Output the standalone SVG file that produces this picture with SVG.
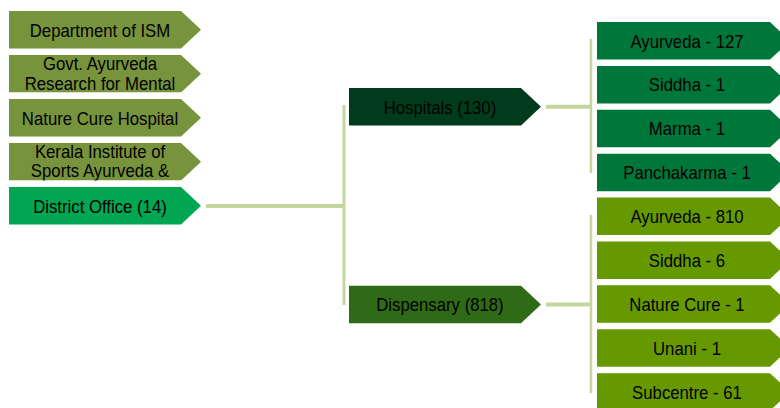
<svg xmlns="http://www.w3.org/2000/svg" width="780" height="408" viewBox="0 0 780 408">
<style>
text{font-family:"Liberation Sans",Arial,sans-serif;font-size:18px;fill:#000;text-anchor:middle;transform:scaleX(0.93);transform-box:fill-box;transform-origin:center}
.olive{fill:#77933c}
.dist{fill:#00a651}
.hosp{fill:#003c1b}
.disp{fill:#2f6a17}
.rtop{fill:#00773a}
.rbot{fill:#669900}
.conn{stroke:#c3d69b;fill:none}
</style>
<defs>
<clipPath id="c2"><rect x="9" y="55" width="192" height="37.5"/></clipPath>
<clipPath id="c4"><rect x="9" y="143" width="192" height="37.5"/></clipPath>
</defs>
<rect width="780" height="408" fill="#fff"/>
<g id="connectors">
<path class="conn" stroke-width="4" d="M206,206 H345"/>
<path class="conn" stroke-width="3" d="M344,105 V305"/>
<path class="conn" stroke-width="4" d="M546,106.7 H591"/>
<path class="conn" stroke-width="2.5" d="M591,39 V173"/>
<path class="conn" stroke-width="4" d="M546,304.5 H591"/>
<path class="conn" stroke-width="2.5" d="M591,215 V393"/>
</g>
<g id="n-dept"><path class="olive" d="M9,11 H181 L201,29.75 L181,48.5 H9 Z"/><text x="100" y="36.6">Department of ISM</text></g>
<g id="n-govt" clip-path="url(#c2)"><path class="olive" d="M9,55 H181 L201,73.75 L181,92.5 H9 Z"/><text x="100" y="70">Govt. Ayurveda</text><text x="100" y="90">Research for Mental</text></g>
<g id="n-nature"><path class="olive" d="M9,99 H181 L201,117.75 L181,136.5 H9 Z"/><text x="100" y="124.6">Nature Cure Hospital</text></g>
<g id="n-kerala" clip-path="url(#c4)"><path class="olive" d="M9,143 H181 L201,161.75 L181,180.5 H9 Z"/><text x="100" y="158.3">Kerala Institute of</text><text x="100" y="177.5">Sports Ayurveda &amp;</text></g>
<g id="n-district"><path class="dist" d="M9,187 H181 L201,205.75 L181,224.5 H9 Z"/><text x="100" y="212.6">District Office (14)</text></g>
<g id="n-hospitals"><path class="hosp" d="M349,88 H521 L541,106.75 L521,125.5 H349 Z"/><text x="440" y="113.6">Hospitals (130)</text></g>
<g id="n-dispensary"><path class="disp" d="M349,285.7 H521 L541,304.45 L521,323.2 H349 Z"/><text x="440" y="311.3">Dispensary (818)</text></g>
<g id="n-h1"><path class="rtop" d="M597,22 H770 L790,40.75 L770,59.5 H597 Z"/><text x="687" y="47.6">Ayurveda - 127</text></g>
<g id="n-h2"><path class="rtop" d="M597,65.9 H770 L790,84.65 L770,103.4 H597 Z"/><text x="687" y="91.5">Siddha - 1</text></g>
<g id="n-h3"><path class="rtop" d="M597,109.8 H770 L790,128.55 L770,147.3 H597 Z"/><text x="687" y="135.4">Marma - 1</text></g>
<g id="n-h4"><path class="rtop" d="M597,153.7 H770 L790,172.45 L770,191.2 H597 Z"/><text x="687" y="179.3">Panchakarma - 1</text></g>
<g id="n-d1"><path class="rbot" d="M597,197.5 H770 L790,216.25 L770,235 H597 Z"/><text x="687" y="223.1">Ayurveda - 810</text></g>
<g id="n-d2"><path class="rbot" d="M597,241.4 H770 L790,260.15 L770,278.9 H597 Z"/><text x="687" y="267">Siddha - 6</text></g>
<g id="n-d3"><path class="rbot" d="M597,285.3 H770 L790,304.05 L770,322.8 H597 Z"/><text x="687" y="310.9">Nature Cure - 1</text></g>
<g id="n-d4"><path class="rbot" d="M597,329.2 H770 L790,347.95 L770,366.7 H597 Z"/><text x="687" y="354.8">Unani - 1</text></g>
<g id="n-d5"><path class="rbot" d="M597,373.2 H770 L790,391.95 L770,410.7 H597 Z"/><text x="687" y="398.8">Subcentre - 61</text></g>
</svg>
